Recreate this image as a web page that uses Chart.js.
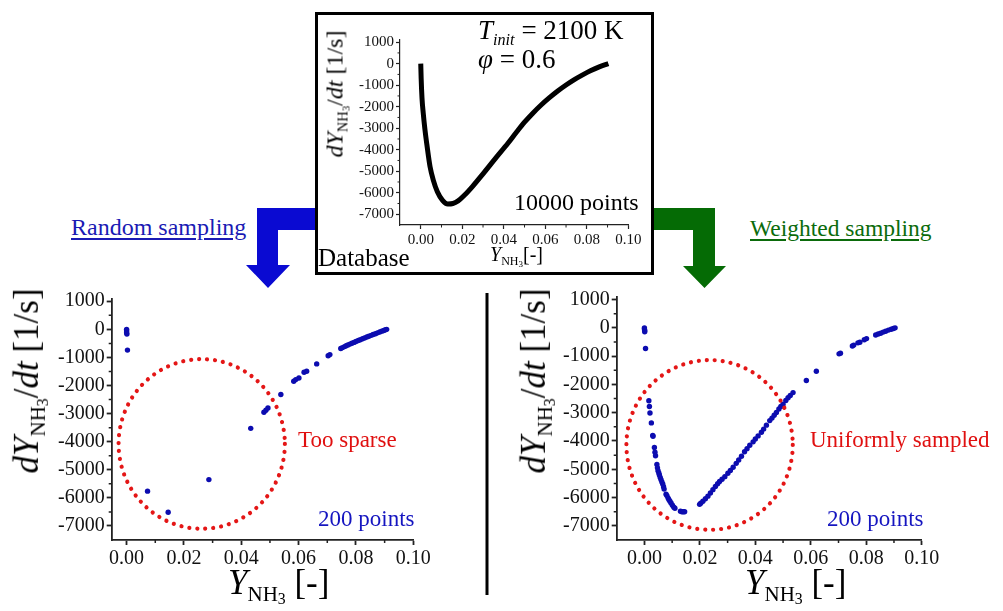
<!DOCTYPE html>
<html lang="en">
  <head>
    <meta charset="UTF-8" />
    <title>Random vs weighted sampling</title>
    <style>
      * {
        margin: 0;
        padding: 0;
        box-sizing: border-box;
      }
      body {
        width: 1003px;
        height: 611px;
        background: #ffffff;
        overflow: hidden;
        position: relative;
        font-family: "Liberation Serif", serif;
      }
      .abs {
        position: absolute;
        white-space: nowrap;
        line-height: 1;
      }
      .vt {
        transform: translate(-50%, -50%) rotate(-90deg);
      }
      .box {
        position: absolute;
        left: 315px;
        top: 12px;
        width: 339px;
        height: 263px;
        border: 3.5px solid #000;
      }
      sub.s {
        font-size: 0.6em;
        vertical-align: -0.35em;
        font-style: normal;
      }
      sub.s sub {
        font-size: 0.75em;
        vertical-align: -0.2em;
      }
      .u {
        text-decoration: underline;
        text-decoration-thickness: 1.5px;
        text-underline-offset: 3px;
      }
      .plot {
        position: absolute;
      }
    </style>
    <script src="https://cdn.jsdelivr.net/npm/chart.js"></script>
  </head>
  <body>
    <svg class="abs" style="left: 0; top: 0" width="1003" height="611">
      <polygon fill="#0a0ad2" points="318,208 257,208 257,265 246,265 268,288 290,265 278,265 278,230 318,230" />
      <polygon fill="#056b05" points="652,208 715,208 715,266 726,266 704.5,288 683,266 693,266 693,230 652,230" />
      <line x1="487" y1="293" x2="487" y2="595" stroke="#000" stroke-width="3" />
    </svg>
    <div class="box"></div>

    <div class="plot" style="left: 320px; top: 15px"><canvas id="dbChart" width="330" height="245"></canvas></div>
    <div class="plot" style="left: 0px; top: 285px"><canvas id="rndChart" width="440" height="326"></canvas></div>
    <div class="plot" style="left: 500px; top: 283px"><canvas id="wtChart" width="450" height="328"></canvas></div>

    <!-- top box texts -->
    <div class="abs" style="left: 478px; top: 17px; font-size: 27px"><i>T<sub class="s" style="font-style: italic">init</sub></i>&nbsp;=&nbsp;2100&nbsp;K</div>
    <div class="abs" style="left: 478px; top: 46px; font-size: 27px"><i>φ</i>&nbsp;=&nbsp;0.6</div>
    <div class="abs" style="left: 514px; top: 190px; font-size: 24px">10000 points</div>
    <div class="abs" style="left: 318px; top: 245px; font-size: 25px">Database</div>
    <div class="abs vt" style="left: 337px; top: 94px; font-size: 24px"><i>dY</i><sub class="s">NH<sub>3</sub></sub>/<i>dt</i> [1/s]</div>
    <div class="abs" style="left: 490px; top: 244px; font-size: 20px"><i>Y</i><sub class="s">NH<sub>3</sub></sub>[-]</div>

    <!-- arrow labels -->
    <div class="abs u" style="left: 71px; top: 215px; font-size: 24px; color: #1a1ab4">Random sampling</div>
    <div class="abs u" style="left: 750px; top: 217px; font-size: 23.5px; color: #0b6b0b">Weighted sampling</div>

    <!-- bottom left texts -->
    <div class="abs vt" style="left: 30px; top: 381px; font-size: 35px"><i>dY</i><sub class="s">NH<sub>3</sub></sub>/<i>dt</i> [1/s]</div>
    <div class="abs" style="left: 228px; top: 565px; font-size: 35px"><i>Y</i><sub class="s">NH<sub>3</sub></sub> [-]</div>
    <div class="abs" style="left: 298px; top: 428px; font-size: 23px; color: #e01010">Too sparse</div>
    <div class="abs" style="left: 318px; top: 507px; font-size: 23px; color: #1515c0">200 points</div>

    <!-- bottom right texts -->
    <div class="abs vt" style="left: 537px; top: 381px; font-size: 35px"><i>dY</i><sub class="s">NH<sub>3</sub></sub>/<i>dt</i> [1/s]</div>
    <div class="abs" style="left: 745px; top: 565px; font-size: 35px"><i>Y</i><sub class="s">NH<sub>3</sub></sub> [-]</div>
    <div class="abs" style="left: 810px; top: 428px; font-size: 23px; color: #e01010">Uniformly sampled</div>
    <div class="abs" style="left: 827px; top: 507px; font-size: 23px; color: #1515c0">200 points</div>

    <script>
      // database curve, Y_NH3 vs dY/dt
      const dbY = [0, 0.0002, 0.0006, 0.0012, 0.002, 0.003, 0.0045, 0.006, 0.008, 0.0105, 0.013, 0.0155, 0.018, 0.021, 0.025, 0.03, 0.036, 0.042, 0.046, 0.05, 0.054, 0.058, 0.062, 0.066, 0.07, 0.074, 0.078, 0.082, 0.086, 0.0904];
      const dbRate = [0, -700, -1600, -2300, -3050, -3800, -4800, -5400, -5950, -6350, -6520, -6500, -6380, -6120, -5700, -5120, -4400, -3700, -3200, -2720, -2300, -1920, -1580, -1270, -990, -740, -520, -320, -150, 0];

      // random sampling, 200 points (many overlap)
      const rndY = [0, 0, 0, 0.0001, 0.0003, 0.0073, 0.0145, 0.0287, 0.0433, 0.0479, 0.0486, 0.0493, 0.0538, 0.0583, 0.059, 0.0601, 0.0619, 0.0628, 0.0663, 0.0703, 0.0709, 0.0747, 0.0753, 0.076, 0.0766, 0.0772, 0.0779, 0.0786, 0.0793, 0.08, 0.0808, 0.0815, 0.0823, 0.083, 0.0838, 0.0845, 0.0853, 0.086, 0.0868, 0.0875, 0.0883, 0.089, 0.0897, 0.0903, 0.0907];
      const rndRate = [0, -60, -120, -170, -740, -5760, -6510, -5350, -3525, -2950, -2880, -2800, -2320, -1850, -1790, -1730, -1530, -1490, -1230, -940, -900, -680, -650, -615, -585, -555, -525, -495, -465, -435, -400, -370, -335, -305, -275, -245, -215, -185, -155, -125, -95, -65, -40, -15, 0];

      // weighted sampling, 200 points
      const wtY = [0, 0, 0.0001, 0.0001, 0.0004,
        0.0016, 0.0018, 0.002, 0.0025, 0.003, 0.0031, 0.0036, 0.0038, 0.004, 0.0045, 0.0047, 0.0049, 0.0052, 0.0054, 0.0057, 0.006, 0.0063, 0.0066, 0.0069, 0.0071, 0.0078, 0.0081, 0.0085, 0.0088, 0.0092, 0.0096, 0.0101, 0.0106, 0.011, 0.013, 0.0135, 0.014, 0.0145,
        0.0199, 0.0203, 0.0211, 0.022, 0.0229, 0.0238, 0.0247, 0.0256, 0.0264, 0.0271, 0.028, 0.029, 0.0301, 0.031, 0.032, 0.0331, 0.034, 0.035, 0.0361, 0.037, 0.038, 0.0392, 0.04, 0.041, 0.0422, 0.043, 0.044, 0.0452, 0.046, 0.0468, 0.0476, 0.0485, 0.0492, 0.05, 0.051, 0.0518, 0.0526, 0.0536,
        0.0584, 0.062, 0.0702, 0.0707, 0.075, 0.0755, 0.077, 0.0777, 0.0793, 0.0801, 0.0834, 0.0843, 0.0852, 0.0861, 0.087, 0.088, 0.089, 0.0898, 0.0904];
      const wtRate = [0, -40, -90, -140, -730,
        -2580, -2780, -3010, -3360, -3800, -3830, -4230, -4400, -4520, -4830, -4950, -5050, -5130, -5200, -5290, -5370, -5450, -5520, -5620, -5700, -5880, -5930, -6010, -6070, -6130, -6190, -6270, -6340, -6380, -6480, -6500, -6500, -6500,
        -6240, -6200, -6130, -6040, -5950, -5840, -5720, -5610, -5510, -5430, -5350, -5260, -5140, -5040, -4930, -4790, -4670, -4540, -4380, -4270, -4150, -4030, -3930, -3820, -3690, -3580, -3440, -3280, -3190, -3090, -2990, -2870, -2780, -2700, -2570, -2470, -2390, -2290,
        -1860, -1535, -920, -895, -640, -610, -530, -510, -420, -380, -255, -220, -190, -150, -120, -80, -50, -25, 0];

      const xTicks = [0, 0.02, 0.04, 0.06, 0.08, 0.1];
      const xMinor = [0.01, 0.03, 0.05, 0.07, 0.09];
      const yTicks = [-7000, -6000, -5000, -4000, -3000, -2000, -1000, 0, 1000];
      const yMinor = [-6500, -5500, -4500, -3500, -2500, -1500, -500, 500];

      // red dotted rings (centre and radii in data units)
      const rndRing = { cx: 0.0262, cy: -4080, rx: 0.029, ry: 3020 };
      const wtRing = { cx: 0.0235, cy: -4140, rx: 0.030, ry: 3000 };

      const toXY = (xs, ys) => xs.map((v, i) => ({ x: v, y: ys[i] }));

      const minorTicks = {
        id: "minorTicks",
        afterDraw(chart, args, o) {
          const { ctx } = chart;
          const x = chart.scales.x;
          const y = chart.scales.y;
          ctx.save();
          ctx.strokeStyle = "#222";
          ctx.lineWidth = o.w;
          ctx.beginPath();
          xMinor.forEach((v) => {
            if (v < x.min) return;
            const px = x.getPixelForValue(v);
            ctx.moveTo(px, x.top);
            ctx.lineTo(px, x.top + o.len);
          });
          yMinor.forEach((v) => {
            const py = y.getPixelForValue(v);
            ctx.moveTo(y.right, py);
            ctx.lineTo(y.right - o.len, py);
          });
          ctx.stroke();
          ctx.restore();
        },
      };

      const ring = {
        id: "ring",
        afterDatasetsDraw(chart, args, o) {
          if (!o.c) return;
          const { ctx } = chart;
          const x = chart.scales.x;
          const y = chart.scales.y;
          const cx = x.getPixelForValue(o.c.cx);
          const cy = y.getPixelForValue(o.c.cy);
          const rx = Math.abs(x.getPixelForValue(o.c.cx + o.c.rx) - cx);
          const ry = Math.abs(y.getPixelForValue(o.c.cy + o.c.ry) - cy);
          ctx.save();
          ctx.beginPath();
          ctx.ellipse(cx, cy, rx, ry, 0, 0, Math.PI * 2);
          ctx.setLineDash([0.01, 8]);
          ctx.lineCap = "round";
          ctx.lineWidth = 4.2;
          ctx.strokeStyle = "#e41616";
          ctx.stroke();
          ctx.restore();
        },
      };

      function scales(o) {
        return {
          x: {
            type: "linear",
            min: o.xmin,
            max: 0.1,
            afterBuildTicks: (s) => {
              s.ticks = xTicks.map((v) => ({ value: v }));
            },
            afterFit: (s) => {
              s.height = o.xh;
            },
            border: { color: "#222", width: o.bw },
            grid: { drawOnChartArea: false, tickLength: o.tl, color: "#222", tickWidth: o.bw },
            ticks: {
              color: "#111",
              font: { family: "Liberation Serif", size: o.fs },
              padding: o.pad,
              maxRotation: 0,
              autoSkip: false,
              callback: (v) => v.toFixed(2),
            },
          },
          y: {
            type: "linear",
            min: -7500,
            max: o.ymax,
            afterBuildTicks: (s) => {
              s.ticks = yTicks.map((v) => ({ value: v }));
            },
            afterFit: (s) => {
              s.width = o.yw;
            },
            border: { color: "#222", width: o.bw },
            grid: { drawOnChartArea: false, tickLength: o.tl, color: "#222", tickWidth: o.bw },
            ticks: {
              color: "#111",
              font: { family: "Liberation Serif", size: o.fs },
              padding: o.pad,
              autoSkip: false,
              callback: (v) => String(v),
            },
          },
        };
      }

      new Chart(document.getElementById("dbChart"), {
        type: "line",
        data: {
          datasets: [
            {
              data: toXY(dbY, dbRate),
              borderColor: "#000",
              borderWidth: 5,
              pointRadius: 0,
              cubicInterpolationMode: "monotone",
              fill: false,
            },
          ],
        },
        options: {
          responsive: false,
          animation: false,
          layout: { padding: { left: 0, top: 25, right: 21.7, bottom: 0 } },
          plugins: { legend: { display: false }, tooltip: { enabled: false }, minorTicks: { len: 2.5, w: 1 } },
          scales: scales({ xmin: -0.01, ymax: 1100, xh: 35, yw: 80, bw: 1.2, tl: 4, fs: 15, pad: 2 }),
        },
        plugins: [minorTicks],
      });

      new Chart(document.getElementById("rndChart"), {
        type: "scatter",
        data: {
          datasets: [
            {
              data: toXY(rndY, rndRate),
              backgroundColor: "#0c0cb0",
              borderWidth: 0,
              pointRadius: 2.7,
            },
          ],
        },
        options: {
          responsive: false,
          animation: false,
          layout: { padding: { left: 0, top: 11, right: 26.7, bottom: 0 } },
          plugins: {
            legend: { display: false },
            tooltip: { enabled: false },
            minorTicks: { len: 3, w: 1.5 },
            ring: { c: rndRing },
          },
          scales: scales({ xmin: -0.0052, ymax: 1080, xh: 71, yw: 111.7, bw: 1.8, tl: 5, fs: 20, pad: 2 }),
        },
        plugins: [minorTicks, ring],
      });

      new Chart(document.getElementById("wtChart"), {
        type: "scatter",
        data: {
          datasets: [
            {
              data: toXY(wtY, wtRate),
              backgroundColor: "#0c0cb0",
              borderWidth: 0,
              pointRadius: 2.7,
            },
          ],
        },
        options: {
          responsive: false,
          animation: false,
          layout: { padding: { left: 0, top: 10, right: 28.3, bottom: 0 } },
          plugins: {
            legend: { display: false },
            tooltip: { enabled: false },
            minorTicks: { len: 3, w: 1.5 },
            ring: { c: wtRing },
          },
          scales: scales({ xmin: -0.01, ymax: 1090, xh: 71, yw: 116.7, bw: 1.8, tl: 5, fs: 20, pad: 2 }),
        },
        plugins: [minorTicks, ring],
      });
    </script>
  </body>
</html>
